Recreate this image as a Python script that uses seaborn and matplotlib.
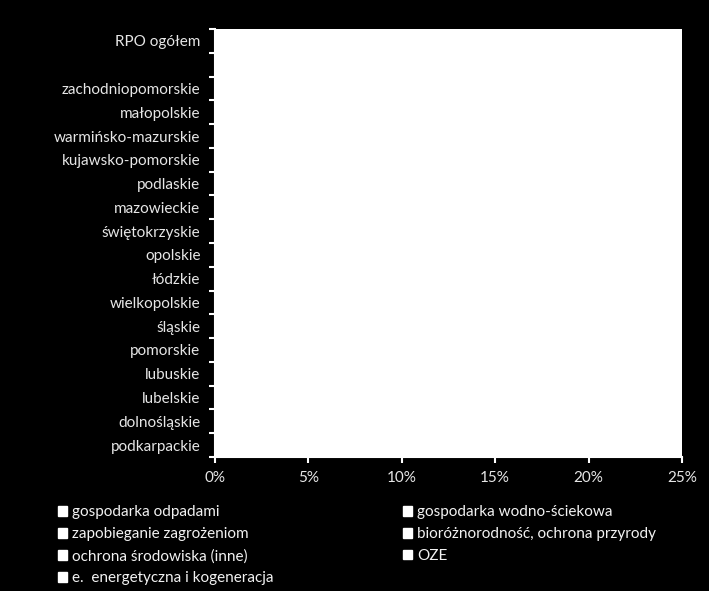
import numpy as np
import pandas as pd
import matplotlib
matplotlib.use("Agg")
import matplotlib.pyplot as plt
from matplotlib.patches import Patch
import seaborn as sns

# regions, top to bottom (one empty slot under the total)
regions = [
    "RPO ogółem", " ", "zachodniopomorskie", "małopolskie",
    "warmińsko-mazurskie", "kujawsko-pomorskie", "podlaskie",
    "mazowieckie", "świętokrzyskie", "opolskie", "łódzkie",
    "wielkopolskie", "śląskie", "pomorskie", "lubuskie", "lubelskie",
    "dolnośląskie", "podkarpackie",
]

series_names = [
    "gospodarka odpadami",
    "gospodarka wodno-ściekowa",
    "zapobieganie zagrożeniom",
    "bioróżnorodność, ochrona przyrody",
    "ochrona środowiska (inne)",
    "OZE",
    "e.  energetyczna i kogeneracja",
]

# bars are white on a white plot area in the source, nothing can be read
odpady = [0] * 18
wodno_sciekowa = [0] * 18
zagrozenia = [0] * 18
bioroznorodnosc = [0] * 18
ochrona_inne = [0] * 18
oze = [0] * 18
efektywnosc = [0] * 18

x_ticks = [0, 0.05, 0.10, 0.15, 0.20, 0.25]
x_tick_labels = ["0%", "5%", "10%", "15%", "20%", "25%"]

text_color = "#e6e6e6"
font_size = 11

sns.set_theme(style="white")
plt.rcParams["font.family"] = ["Lato", "DejaVu Sans"]

fig = plt.figure(figsize=(7.09, 5.91), dpi=100, facecolor="black")
ax = fig.add_axes([215 / 709, 1 - 457 / 591, 467 / 709, 428 / 591])
ax.set_facecolor("white")

values = [odpady, wodno_sciekowa, zagrozenia, bioroznorodnosc,
          ochrona_inne, oze, efektywnosc]
cum = np.cumsum(np.array(values, dtype=float), axis=0)

# stacked bars: draw the longest cumulative first
for i in range(len(values) - 1, -1, -1):
    df = pd.DataFrame({"region": regions, "share": cum[i]})
    sns.barplot(data=df, y="region", x="share", orient="h",
                color="white", edgecolor="white", width=0.6,
                saturation=1, ax=ax)

ax.set_xlim(0, 0.25)
ax.set_ylim(17.5, -0.5)
ax.set_xticks(x_ticks)
ax.set_xticklabels(x_tick_labels)
ax.set_yticks(np.arange(len(regions)))
ax.set_yticklabels(regions)
ax.set_xlabel("")
ax.set_ylabel("")

# category ticks sit between the labels, like in Excel
ax.set_yticks(np.arange(-0.5, len(regions), 1), minor=True)
ax.tick_params(axis="y", which="major", length=0, pad=10.5,
               labelcolor=text_color, labelsize=font_size)
ax.tick_params(axis="y", which="minor", length=4, width=1.5,
               color="white", left=True, direction="out")
ax.tick_params(axis="x", which="major", length=4, width=1.5,
               color="white", bottom=True, direction="out", pad=6,
               labelcolor=text_color, labelsize=font_size)

for side in ["top", "right"]:
    ax.spines[side].set_visible(False)
ax.spines["left"].set_color("white")
ax.spines["bottom"].set_color("white")
ax.spines["left"].set_linewidth(1.5)
ax.spines["bottom"].set_linewidth(1.5)

# legend, row-major like the source
handles = [Patch(facecolor="white", edgecolor="white", label=n)
           for n in series_names]
order = [0, 2, 4, 6, 1, 3, 5]
leg = fig.legend(
    [handles[k] for k in order], [series_names[k] for k in order],
    ncol=2, loc="upper left", bbox_to_anchor=(52 / 709, 1 - 499 / 591),
    frameon=False, fontsize=font_size, labelcolor="#f2f2f2",
    handlelength=0.6, handleheight=0.6, handletextpad=0.3,
    columnspacing=8.5, labelspacing=0.52, borderaxespad=0,
)

fig.savefig("out.png", dpi=100, facecolor="black")
